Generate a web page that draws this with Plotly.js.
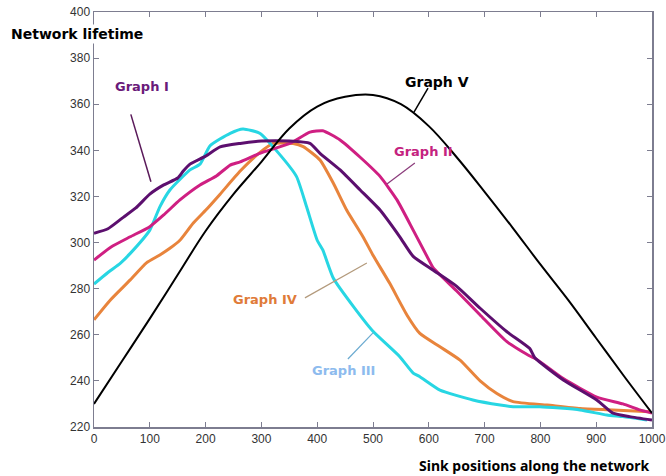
<!DOCTYPE html>
<html>
<head>
<meta charset="utf-8">
<script src="https://cdn.plot.ly/plotly-3.0.1.min.js"></script>
<style>html,body{margin:0;padding:0;background:#fff;}#chart{width:666px;height:476px;}</style>
</head>
<body>
<div id="chart"></div>
<script>
// Graph I (dark purple)
const g1X = [0, 25, 50, 75, 100, 125, 150, 160, 172, 200, 226, 262, 300, 350, 387, 405, 441, 477, 513, 548, 572, 608, 650, 692, 740, 781, 790, 841, 901, 930, 960, 1000];
const g1Y = [304, 306, 310.5, 315, 321, 325, 328, 331, 334, 337.5, 341.5, 343, 344, 344, 343, 338.7, 331.5, 322.8, 314, 302.5, 294, 288, 281, 271.5, 261.3, 254, 250, 240.4, 231.7, 226, 224.5, 223];
// Graph II (magenta)
const g2X = [0, 30, 65, 100, 125, 154, 190, 220, 244, 262, 297, 351, 387, 410, 441, 477, 513, 543, 572, 597, 608, 650, 692, 740, 781, 793, 841, 901, 948, 978, 1000];
const g2Y = [292.4, 298, 302.5, 306.9, 312, 318.5, 325, 329, 333.6, 335, 338.7, 343, 347.9, 348.5, 344.5, 337, 328.6, 318.5, 305.4, 293.9, 289, 279, 268.6, 257, 250.8, 249.4, 241, 233, 230, 227.4, 226];
// Graph III (cyan)
const g3X = [0, 25, 47, 65, 100, 118, 136, 172, 190, 208, 244, 267, 297, 330, 363, 381, 400, 410, 429, 465, 500, 548, 572, 584, 620, 679, 728, 751, 799, 871, 919, 948, 991];
const g3Y = [282, 287, 291, 295.3, 305.4, 315.5, 322.8, 331.5, 334, 342, 347.4, 349.3, 347.4, 339, 328.6, 315.5, 301, 296.8, 284.5, 272.2, 261.5, 250.5, 243.4, 241.8, 236, 231.7, 229.5, 228.8, 228.8, 227.4, 225.2, 224.5, 223];
// Graph IV (orange)
const g4X = [0, 29, 65, 94, 118, 136, 154, 178, 200, 226, 262, 297, 321, 357, 375, 405, 429, 453, 482, 500, 530, 561, 584, 620, 656, 692, 722, 751, 812, 871, 930, 996];
const g4Y = [266.5, 275, 283.8, 291.2, 294.6, 297.5, 301, 308.5, 314, 321, 331, 339, 343, 343, 341.6, 335.8, 325.7, 314, 302.5, 294.5, 282.3, 268.5, 260.6, 254.8, 249, 240, 234.5, 231, 229.5, 228, 227.4, 226.6];
// Graph V (black)
const g5X = [0, 50, 100, 150, 200, 250, 300, 350, 400, 450, 500, 550, 600, 650, 700, 750, 800, 850, 900, 950, 1000];
const g5Y = [230, 248.5, 267, 286, 305, 321, 335, 349.5, 359, 363.2, 364, 360, 350.5, 337, 322, 306.5, 290.5, 275, 258.5, 242, 226];

const seriesNames = ["Graph I", "Graph II", "Graph III", "Graph IV", "Graph V"];
const xTicks = [0, 100, 200, 300, 400, 500, 600, 700, 800, 900, 1000];
const yTicks = [220, 240, 260, 280, 300, 320, 340, 360, 380, 400];

const colors = ["#5c0f6e", "#cf1f82", "#27d6e3", "#e8843c", "#000000"];
const widths = [3, 3, 3, 3, 2];
const xs = [g1X, g2X, g3X, g4X, g5X];
const ys = [g1Y, g2Y, g3Y, g4Y, g5Y];

const traces = [3, 2, 1, 0, 4].map(i => ({
  x: xs[i], y: ys[i], type: "scatter", mode: "lines", name: seriesNames[i],
  line: {color: colors[i], width: widths[i], shape: "spline", smoothing: i === 4 ? 1 : 0.5},
  hoverinfo: "skip"
}));

const labelFont = (c) => ({family: "DejaVu Sans", size: 13, color: c, weight: "bold"});

const layout = {
  width: 666, height: 476,
  margin: {l: 94, r: 14, t: 12, b: 49},
  paper_bgcolor: "#ffffff", plot_bgcolor: "#ffffff",
  showlegend: false,
  xaxis: {
    range: [0, 1000], tickvals: xTicks, ticktext: xTicks.map(String),
    ticks: "inside", ticklen: 5, tickcolor: "#7d7d90",
    showline: true, linecolor: "#7d7d90", linewidth: 1.5, mirror: "ticks",
    showgrid: false, zeroline: false,
    tickfont: {family: "Liberation Sans, Arial", size: 12, color: "#333"}
  },
  yaxis: {
    range: [220, 400], tickvals: yTicks, ticktext: yTicks.map(String),
    ticks: "inside", ticklen: 5, tickcolor: "#7d7d90",
    showline: true, linecolor: "#7d7d90", linewidth: 1.5, mirror: "ticks",
    showgrid: false, zeroline: false,
    tickfont: {family: "Liberation Sans, Arial", size: 12, color: "#333"}
  },
  shapes: [
    {type: "line", x0: 66, y0: 355.6, x1: 102, y1: 326.4, line: {color: "#5a1a5a", width: 1.5}},
    {type: "line", x0: 598.6, y0: 367, x1: 573.5, y1: 356.6, line: {color: "#000000", width: 1.5}},
    {type: "line", x0: 575, y0: 334.5, x1: 525, y1: 325.4, line: {color: "#8a3a7a", width: 1.2}},
    {type: "line", x0: 378, y0: 276, x1: 489, y1: 291.1, line: {color: "#b39a7c", width: 1.2}},
    {type: "line", x0: 455, y0: 249.5, x1: 500, y1: 260.8, line: {color: "#6aaad0", width: 1.2}}
  ],
  annotations: [
    {x: 86, y: 367.9, text: "Graph I", showarrow: false, font: labelFont("#6a1b7a")},
    {x: 614.7, y: 369.6, text: "Graph V", showarrow: false, font: {family: "DejaVu Sans", size: 14, color: "#000", weight: "bold"}},
    {x: 589.6, y: 339.7, text: "Graph II", showarrow: false, font: labelFont("#c4237f")},
    {x: 306.5, y: 275.1, text: "Graph IV", showarrow: false, font: labelFont("#e07b39")},
    {x: 448, y: 244.7, text: "Graph III", showarrow: false, font: labelFont("#8dbbee")},
    {xref: "paper", yref: "paper", x: -0.152, y: 0.947, xanchor: "left", yanchor: "middle",
     text: "Network lifetime", showarrow: false, bgcolor: "#ffffff",
     font: {family: "DejaVu Sans", size: 14, color: "#000", weight: "bold"}},
    {xref: "paper", yref: "paper", x: 1.0, y: -0.0916, xanchor: "right", yanchor: "middle",
     text: "Sink positions along the network", showarrow: false,
     font: {family: "Noto Sans", size: 14, color: "#000", weight: "bold"}}
  ]
};

Plotly.newPlot("chart", traces, layout, {displayModeBar: false, staticPlot: true});
</script>
</body>
</html>
